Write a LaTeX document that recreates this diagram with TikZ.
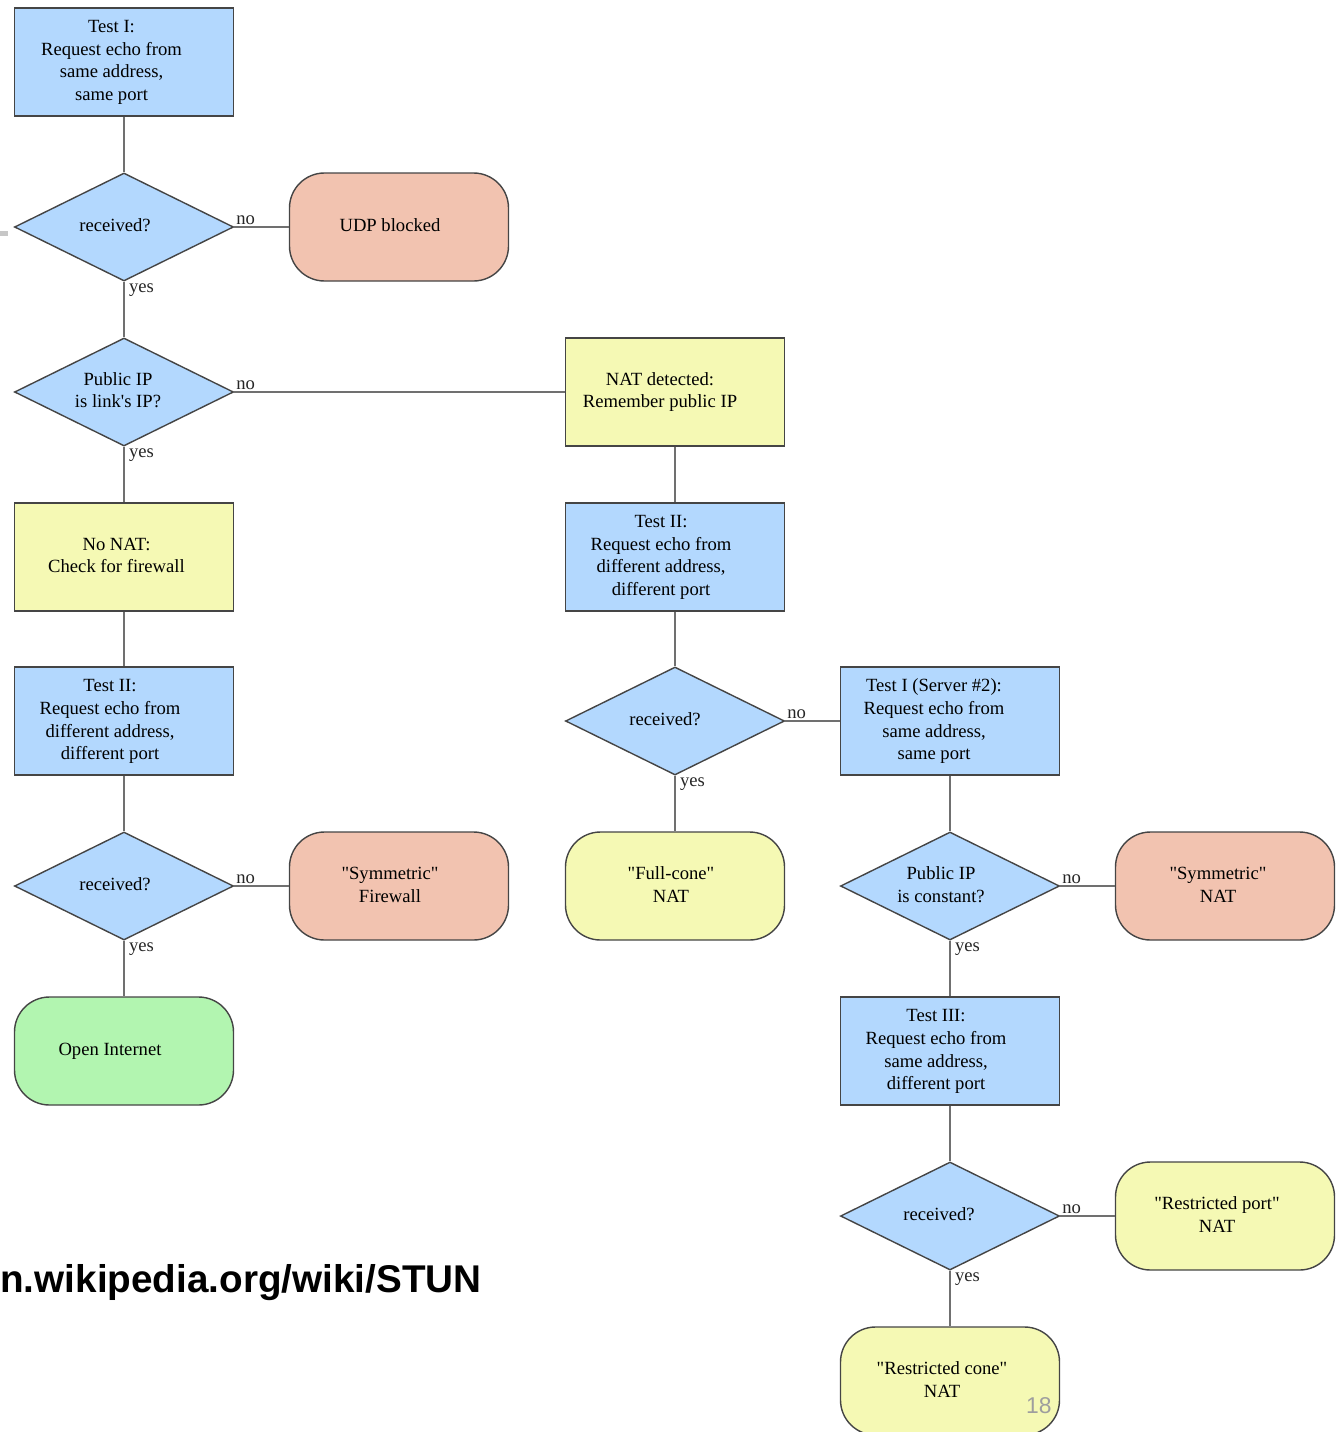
\documentclass[tikz,border=0pt]{standalone}
\usepackage{fontspec}
\setmainfont{Liberation Serif}[Ligatures=TeXOff]
\setsansfont{Liberation Sans}
\usetikzlibrary{shapes.geometric}

\definecolor{testblue}{HTML}{B3D8FE}
\definecolor{noteyellow}{HTML}{F5F9B4}
\definecolor{badred}{HTML}{F2C3B0}
\definecolor{goodgreen}{HTML}{B2F5B0}
\definecolor{linegray}{HTML}{707070}
\definecolor{edgegray}{HTML}{454545}

% lines centred, block pushed a little to the left
\newcommand{\boxtext}[2][5mm]{\begin{tabular}{@{}c@{\hspace{#1}}}#2\end{tabular}}

\tikzset{
  base/.style={draw=edgegray, line width=0.8pt, inner sep=2pt,
    font=\fontsize{10.6}{13}\selectfont},
  testbox/.style={base, rectangle, fill=testblue, minimum width=43.8mm, minimum height=21.6mm},
  notebox/.style={base, rectangle, fill=noteyellow, minimum width=43.8mm, minimum height=21.6mm},
  decision/.style={base, diamond, fill=testblue, inner sep=0pt, aspect=2,
    minimum width=43.8mm, minimum height=21.6mm},
  result/.style={base, rectangle, rounded corners=7mm, minimum width=43.8mm, minimum height=21.6mm},
  link/.style={draw=linegray, line width=1.1pt},
  answer/.style={inner sep=1pt, text=black!85, font=\fontsize{10.6}{13}\selectfont}
}

\begin{document}
\begin{tikzpicture}[x=0.2mm, y=-0.2mm]
    \useasboundingbox (0,0) rectangle (1336,1432);
    \clip (0,0) rectangle (1336,1432);

    % Slide leftovers
    \fill[black!22] (0,231) rectangle (8,236);

    % Left column
    \node[testbox] (testI) at (124,62) {\boxtext{Test I:\\Request echo from\\same address,\\same port}};
    \node[decision] (recvA) at (124,227) {\boxtext[3.6mm]{received?}};
    \node[decision] (pubIP) at (124,392) {\boxtext[2.4mm]{Public IP\\is link's IP?}};
    \node[notebox] (noNAT) at (124,557) {\boxtext[3mm]{No NAT:\\Check for firewall}};
    \node[testbox] (testIIa) at (124,721) {\boxtext[5.6mm]{Test II:\\Request echo from\\different address,\\different port}};
    \node[decision] (recvB) at (124,886) {\boxtext[3.6mm]{received?}};
    \node[result, fill=goodgreen] (open) at (124,1051) {\boxtext[5.6mm]{Open Internet}};

    % -- second column
    \node[result, fill=badred] (udp) at (399,227) {\boxtext[3.6mm]{UDP blocked}};
    \node[result, fill=badred] (symFw) at (399,886) {\boxtext[3.6mm]{"Symmetric"\\Firewall}};

    % Middle column
    \node[notebox] (natDet) at (675,392) {\boxtext[6mm]{NAT detected:\\Remember public IP}};
    \node[testbox] (testIIb) at (675,557) {\boxtext[5.6mm]{Test II:\\Request echo from\\different address,\\different port}};
    \node[decision] (recvC) at (675,721) {\boxtext[4mm]{received?}};
    \node[result, fill=noteyellow] (fullCone) at (675,886) {\boxtext[1.6mm]{"Full-cone"\\NAT}};

    % Right columns
    \node[testbox] (testIs2) at (950,721) {\boxtext[6.4mm]{Test I (Server \#2):\\Request echo from\\same address,\\same port}};
    \node[decision] (constIP) at (950,886) {\boxtext[3.6mm]{Public IP\\is constant?}};
    \node[testbox] (testIII) at (950,1051) {\boxtext[5.6mm]{Test III:\\Request echo from\\same address,\\different port}};
    \node[decision] (recvD) at (950,1216) {\boxtext[4.4mm]{received?}};
    \node[result, fill=noteyellow] (rcone) at (950,1381) {\boxtext[3.2mm]{"Restricted cone"\\NAT}};
    \node[result, fill=badred] (symNAT) at (1225,886) {\boxtext[2.8mm]{"Symmetric"\\NAT}};
    \node[result, fill=noteyellow] (rport) at (1225,1216) {\boxtext[3.2mm]{"Restricted port"\\NAT}};

    % Connectors
    \draw[link] (testI) -- (recvA);
    \draw[link] (recvA) -- (udp);
    \draw[link] (recvA) -- (pubIP);
    \draw[link] (pubIP) -- (natDet);
    \draw[link] (pubIP) -- (noNAT);
    \draw[link] (noNAT) -- (testIIa);
    \draw[link] (testIIa) -- (recvB);
    \draw[link] (recvB) -- (symFw);
    \draw[link] (recvB) -- (open);
    \draw[link] (natDet) -- (testIIb);
    \draw[link] (testIIb) -- (recvC);
    \draw[link] (recvC) -- (testIs2);
    \draw[link] (recvC) -- (fullCone);
    \draw[link] (testIs2) -- (constIP);
    \draw[link] (constIP) -- (symNAT);
    \draw[link] (constIP) -- (testIII);
    \draw[link] (testIII) -- (recvD);
    \draw[link] (recvD) -- (rport);
    \draw[link] (recvD) -- (rcone);

    % Answer labels
    % -- no
    \node[answer, anchor=south west] (noA) at (recvA.east) {no};
    \node[answer, anchor=south west] (noB) at (pubIP.east) {no};
    \node[answer, anchor=south west] (noC) at (recvB.east) {no};
    \node[answer, anchor=south west] (noD) at (recvC.east) {no};
    \node[answer, anchor=south west] (noE) at (constIP.east) {no};
    \node[answer, anchor=south west] (noF) at (recvD.east) {no};
    % -- yes
    \node[answer, anchor=north west, xshift=0.6mm] (yesA) at (recvA.south) {yes};
    \node[answer, anchor=north west, xshift=0.6mm] (yesB) at (pubIP.south) {yes};
    \node[answer, anchor=north west, xshift=0.6mm] (yesC) at (recvB.south) {yes};
    \node[answer, anchor=north west, xshift=0.6mm] (yesD) at (recvC.south) {yes};
    \node[answer, anchor=north west, xshift=0.6mm] (yesE) at (constIP.south) {yes};
    \node[answer, anchor=north west, xshift=0.6mm] (yesF) at (recvD.south) {yes};

    % Source and page number
    \node[anchor=base west, inner sep=0pt, font=\sffamily\bfseries\fontsize{22}{26}\selectfont] (url) at (0,1292) {n.wikipedia.org/wiki/STUN};
    \node[anchor=base east, inner sep=0pt, text=black!38, font=\sffamily\fontsize{13}{15}\selectfont] (pagenum) at (1052,1413) {18};
\end{tikzpicture}
\end{document}
